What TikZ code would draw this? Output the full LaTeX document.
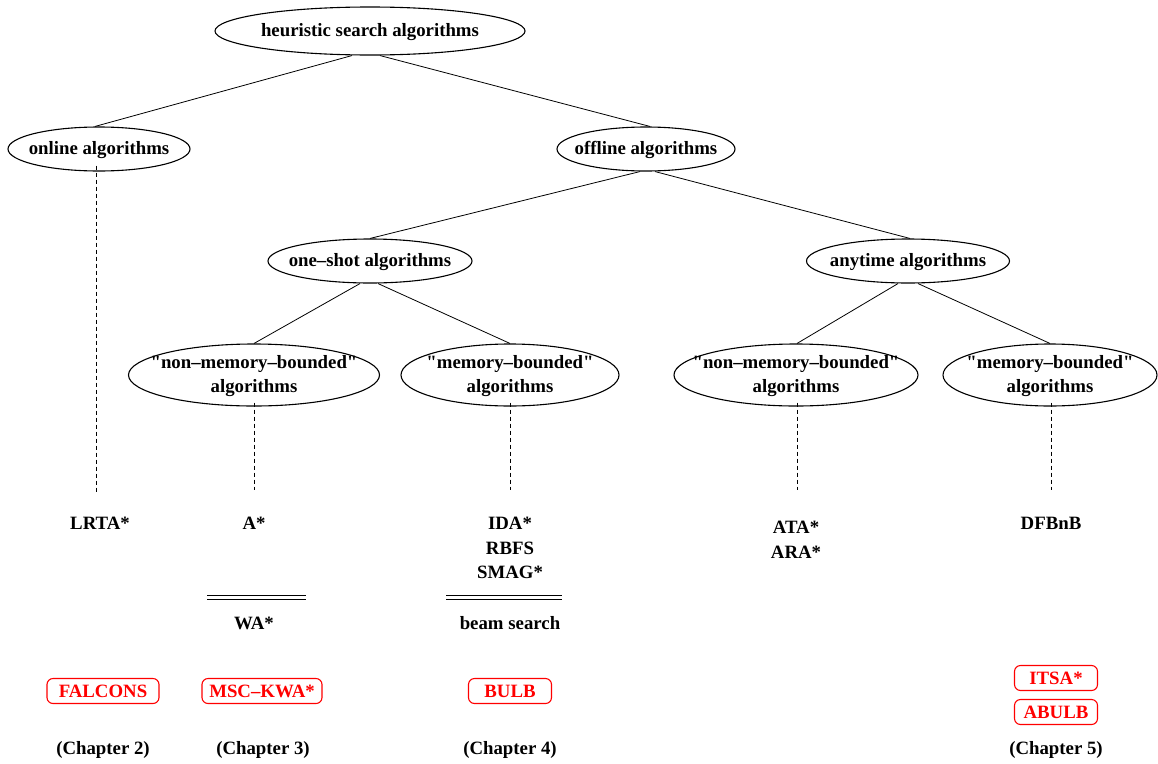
\documentclass[tikz,border=0pt]{standalone}
\usetikzlibrary{shapes.geometric}
% bold serif loaded directly, so straight quotes stay straight
\font\lsb="Liberation Serif/B" at 18.8pt
% zero-size label text, baseline 5.3pt below the node centre
\newcommand\zw[1]{\makebox[0pt]{\smash{\raisebox{-5.3pt}{#1}}}}
\begin{document}
\begin{tikzpicture}[x=1pt,y=-1pt,
  every node/.style={font={\lsb\baselineskip=24.5pt}, inner sep=0pt},
  cat/.style={ellipse, draw, line width=1.1pt},
  algo/.style={align=center},
  twoline/.style={label={[algo, yshift=-1pt]center:#1}},
  newalgo/.style={draw=red, text=red, line width=1.1pt, rounded corners=6pt,
                  minimum height=25pt},
  link/.style={line width=0.8pt},
  dotlink/.style={line width=0.8pt, dash pattern=on 4pt off 3pt}]
\useasboundingbox (0,0) rectangle (1158,763);

% category hierarchy
\node[cat, minimum width=310pt, minimum height=48pt] (hs) at (370,31) {\zw{heuristic search algorithms}};
\node[cat, minimum width=182pt, minimum height=44pt] (on) at (99,149) {\zw{online algorithms}};
\node[cat, minimum width=178pt, minimum height=44pt] (off) at (646,149) {\zw{offline algorithms}};
\node[cat, minimum width=204pt, minimum height=44pt] (os) at (370,261) {\zw{one–shot algorithms}};
\node[cat, minimum width=203pt, minimum height=44pt] (any) at (908,261) {\zw{anytime algorithms}};
\node[cat, minimum width=251pt, minimum height=62pt,
      twoline={"non–memory–bounded"\\algorithms}] (nm1) at (254,375) {};
\node[cat, minimum width=218pt, minimum height=62pt,
      twoline={"memory–bounded"\\algorithms}] (mb1) at (510,375) {};
\node[cat, minimum width=244pt, minimum height=62pt,
      twoline={"non–memory–bounded"\\algorithms}] (nm2) at (796,375) {};
\node[cat, minimum width=214pt, minimum height=62pt,
      twoline={"memory–bounded"\\algorithms}] (mb2) at (1050,375) {};

\draw[link] ([xshift=-18pt]hs.south) -- ([xshift=-4pt]on.north);
\draw[link] ([xshift=10pt]hs.south) -- ([xshift=4pt]off.north);
\draw[link] ([xshift=-6pt]off.south) -- (os.north);
\draw[link] ([xshift=9pt]off.south) -- ([xshift=2pt]any.north);
\draw[link] ([xshift=-10pt]os.south) -- (nm1.north);
\draw[link] ([xshift=8pt]os.south) -- (mb1.north);
\draw[link] ([xshift=-10pt]any.south) -- ([xshift=1pt]nm2.north);
\draw[link] ([xshift=10pt]any.south) -- (mb2.north);

% algorithms
\node[algo] (lrta) at (100,523) {LRTA*};
\node[algo] (astar) at (254,523) {A*};
\node[algo] (ida) at (510,548) {IDA*\\RBFS\\SMAG*};
\node[algo] (ata) at (796,540) {ATA*\\ARA*};
\node[algo] (dfb) at (1051,523) {DFBnB};

\coordinate (lrtatop) at (96,493);
\draw[dotlink] ([xshift=-3pt,yshift=6pt]on.south) -- (lrtatop);
\draw[dotlink] ([yshift=4pt]nm1.south) -- (254,490);
\draw[dotlink] ([yshift=4pt]mb1.south) -- (510,490);
\draw[dotlink] ([yshift=4pt,xshift=1pt]nm2.south) -- (797,490);
\draw[dotlink] ([yshift=4pt,xshift=1pt]mb2.south) -- (1051,490);

% variants below double rules
\draw[line width=0.8pt] (207,595.5) -- (306,595.5) (207,599.5) -- (306,599.5);
\draw[line width=0.8pt] (446,595.5) -- (562,595.5) (446,599.5) -- (562,599.5);
\node[algo] (wa) at (254,623) {WA*};
\node[algo] (beam) at (510,623) {beam search};

% new algorithms
\node[newalgo, minimum width=112pt] (falcons) at (103,691) {FALCONS};
\node[newalgo, minimum width=120pt] (msc) at (262,691) {MSC–KWA*};
\node[newalgo, minimum width=83pt] (bulb) at (510,691) {BULB};
\node[newalgo, minimum width=83pt] (itsa) at (1056,678) {ITSA*};
\node[newalgo, minimum width=83pt] (abulb) at (1056,712) {ABULB};

% chapters
\node (c2) at (103,750) {(Chapter 2)};
\node (c3) at (263,750) {(Chapter 3)};
\node (c4) at (510,750) {(Chapter 4)};
\node (c5) at (1056,750) {(Chapter 5)};
\end{tikzpicture}
\end{document}
